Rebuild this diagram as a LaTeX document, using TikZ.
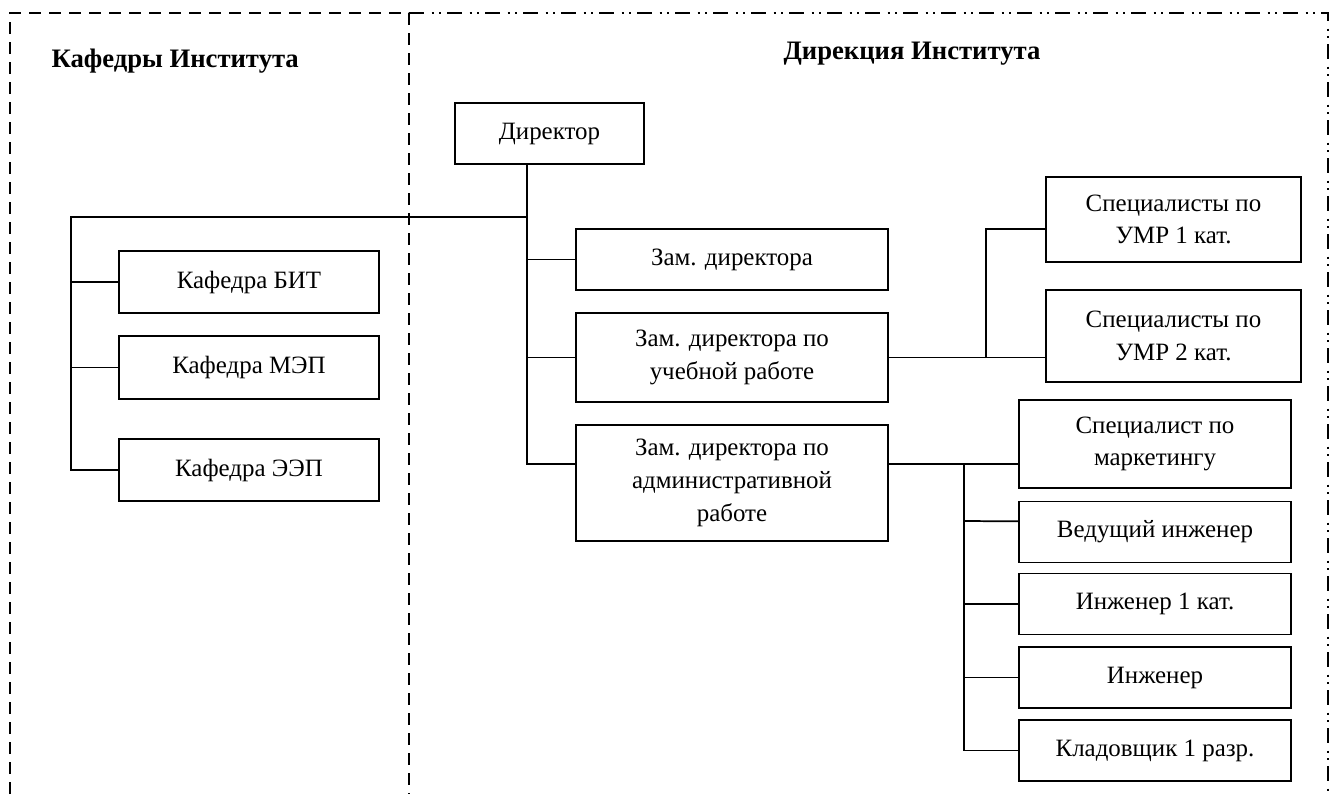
\documentclass[tikz,border=0pt]{standalone}
\usepackage{fontspec}
\setmainfont{Liberation Serif}
\usetikzlibrary{positioning}
\begin{document}
\begin{tikzpicture}[x=0.75pt,y=-0.75pt,
	every node/.style={draw,line width=1.3pt,align=center,inner sep=2pt,font=\fontsize{18.7}{24.5}\selectfont},
	mid/.style={minimum width=234pt},
	kaf/.style={minimum width=195pt,minimum height=47pt},
	umr/.style={minimum width=191.25pt},
	right/.style={minimum width=204pt,minimum height=45.75pt},
	link/.style={line width=1.3pt},
	title/.style={draw=none,font=\fontsize{20}{24}\bfseries}]
	\useasboundingbox (0,0) rectangle (1333,794);
	\draw[line width=1.2pt,dash pattern=on 9pt off 6pt] (10,794) |- (409,13) -- (409,794);
	\draw[line width=1.2pt,dash pattern=on 11pt off 6pt on 1.5pt off 4pt on 1.5pt off 4.5pt] (409,13) -| (1328,794);
	\node[title,anchor=west] (HKaf) at (48,61) {Кафедры Института};
	\node[title] (HDir) at (912,54) {Дирекция Института};
	\node[minimum width=141.75pt,minimum height=45.75pt] (Dir) at (549.5,133.5) {Директор};
	\node[mid,minimum height=45.75pt] (Zam) at (732,259.5) {Зам. директора};
	\node[mid,minimum height=66.75pt] (ZamUch) at (732,357.5) {Зам. директора по\\учебной работе};
	\node[mid,minimum height=87pt] (ZamAdm) at (732,483) {Зам. директора по\\административной\\работе};
	\node[kaf] (KafBIT) at (249,282) {Кафедра БИТ};
	\node[kaf] (KafMEP) at (249,367.5) {Кафедра МЭП};
	\node[kaf] (KafEEP) at (249,470) {Кафедра ЭЭП};
	\node[umr,minimum height=63.75pt] (Umr1) at (1173.5,219.5) {Специалисты по\\УМР 1 кат.};
	\node[umr,minimum height=69pt] (Umr2) at (1173.5,336) {Специалисты по\\УМР 2 кат.};
	\node[right,minimum height=66pt] (Mark) at (1155,444) {Специалист по\\маркетингу};
	\node[right] (Ved) at (1155,532) {Ведущий инженер};
	\node[right] (Ing1) at (1155,604) {Инженер 1 кат.};
	\node[right] (Ing) at (1155,677.5) {Инженер};
	\node[right] (Klad) at (1155,750.5) {Кладовщик 1 разр.};
	% buses
	\coordinate (Trunk) at (527,217);
	\coordinate (KBus) at (71,217);
	\coordinate (AdmJ) at (527,464);
	\coordinate (UBus) at (986,358);
	\coordinate (ABus) at (964,464);
	\draw[link] (Dir.south -| Trunk) -- (AdmJ) -- (AdmJ -| ZamAdm.west);
	\draw[link] (Trunk) -- (KBus) |- (KafEEP.west);
	\draw[link] (KBus |- KafBIT.west) -- (KafBIT.west);
	\draw[link] (KBus |- KafMEP.west) -- (KafMEP.west);
	\draw[link] (Trunk |- Zam.west) -- (Zam.west);
	\draw[link] (Trunk |- ZamUch.west) -- (ZamUch.west);
	\draw[link] (ZamUch.east) -- (ZamUch.east -| Umr2.west);
	\draw[link] (UBus) |- ([yshift=-7pt]Umr1.west);
	\draw[link] (ABus -| ZamAdm.east) -- (ABus -| Mark.west);
	\draw[link] (ABus) |- (Klad.west);
	\draw[link] (ABus |- Ved.west) ++(0,-11) -- ([yshift=8pt]Ved.west);
	\draw[link] (ABus |- Ing1.west) -- (Ing1.west);
	\draw[link] (ABus |- Ing.west) -- (Ing.west);
\end{tikzpicture}
\end{document}
